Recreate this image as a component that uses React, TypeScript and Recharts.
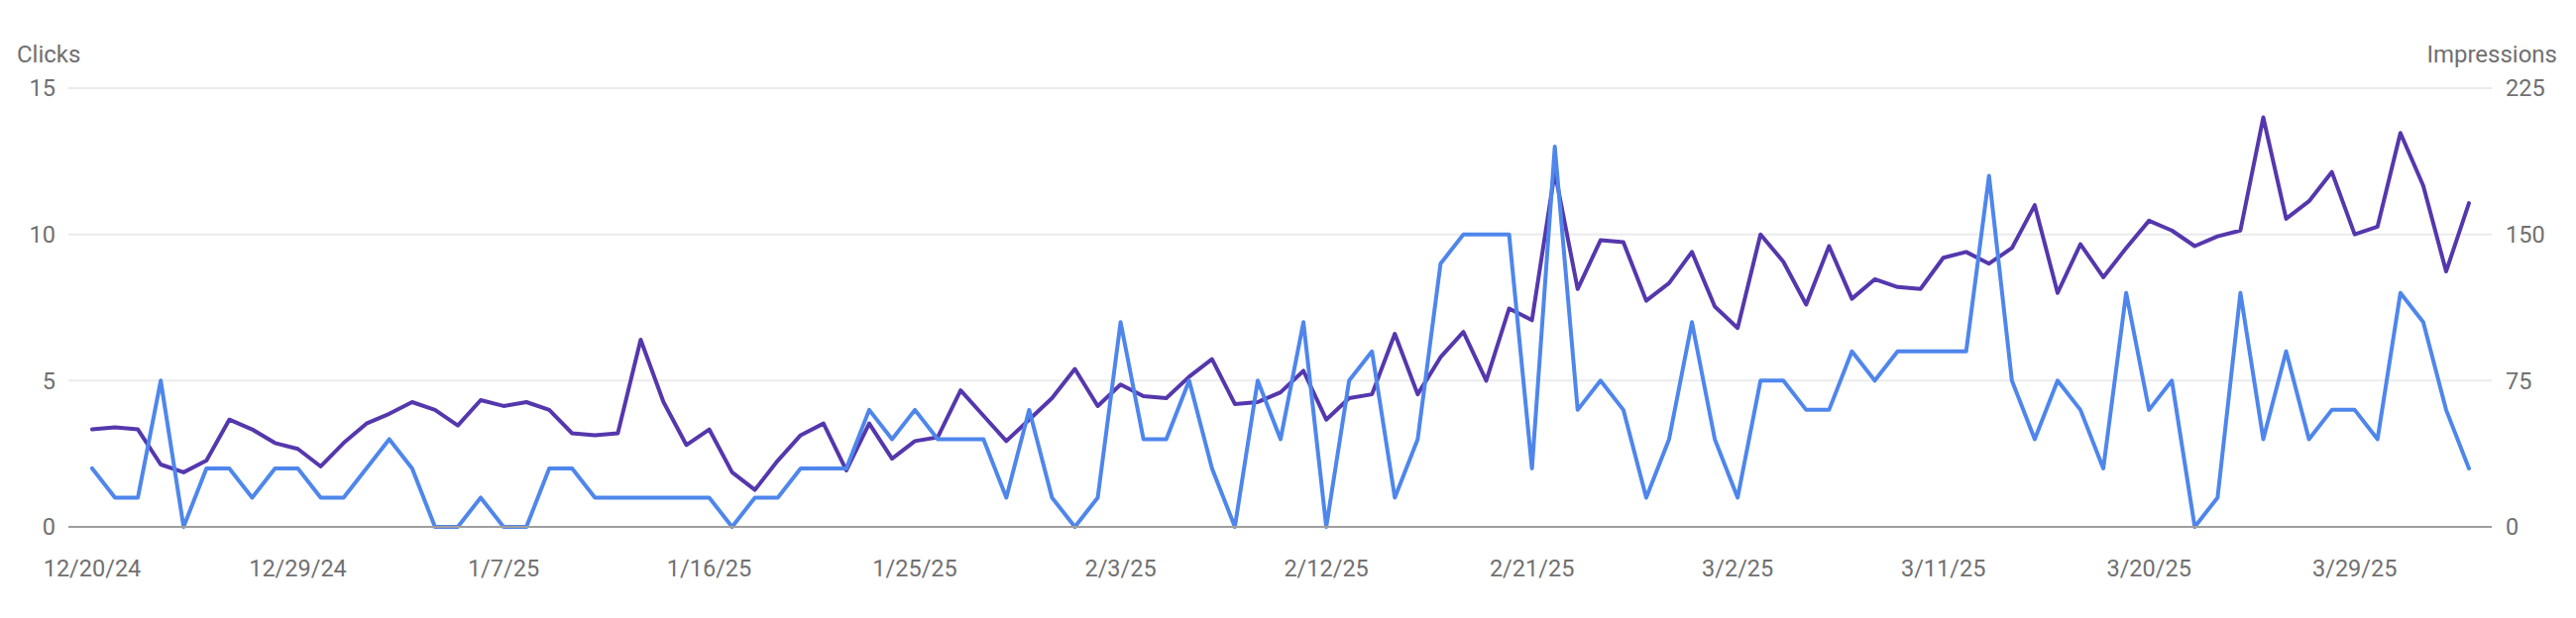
import { CartesianGrid, Line, LineChart, XAxis, YAxis } from "recharts"

// one point per day, 12/20/24 .. 4/3/25
const START = new Date(2024, 11, 20)
const DAY_COUNT = 105

const dates = Array.from({ length: DAY_COUNT }, (_, i) => {
  const d = new Date(START.getFullYear(), START.getMonth(), START.getDate() + i)
  return `${d.getMonth() + 1}/${d.getDate()}/${String(d.getFullYear()).slice(2)}`
})

const clicks = [
  2, 1, 1, 5, 0, 2, 2, 1, 2, 2, 1,
  1, 2, 3, 2, 0, 0, 1, 0, 0, 2, 2, 1, 1,
  1, 1, 1, 1, 0, 1, 1, 2, 2, 2, 4, 3, 4, 3,
  3, 3, 1, 4, 1, 0, 1, 7, 3, 3, 5, 2, 0, 5,
  3, 7, 0, 5, 6, 1, 3, 9, 10, 10, 10, 2, 13, 4,
  5, 4, 1, 3, 7, 3, 1, 5, 5, 4, 4, 6, 5, 6,
  6, 6, 6, 12, 5, 3, 5, 4, 2, 8, 4, 5, 0, 1,
  8, 3, 6, 3, 4, 4, 3, 8, 7, 4, 2,
]

const impressions = [
  50, 51, 50, 32, 28, 34, 55, 50, 43, 40, 31,
  43, 53, 58, 64, 60, 52, 65, 62, 64, 60, 48, 47, 48,
  96, 64, 42, 50, 28, 19, 34, 47, 53, 29, 53, 35, 44, 46,
  70, 57, 44, 55, 66, 81, 62, 73, 67, 66, 77, 86, 63, 64,
  69, 80, 55, 66, 68, 99, 68, 87, 100, 75, 112, 106, 182, 122,
  147, 146, 116, 125, 141, 113, 102, 150, 136, 114, 144, 117, 127, 123,
  122, 138, 141, 135, 143, 165, 120, 145, 128, 143, 157, 152, 144, 149,
  152, 210, 158, 167, 182, 150, 154, 202, 175, 131, 166,
]

const clickTicks = [0, 5, 10, 15]
const impressionTicks = [0, 75, 150, 225]

const data = dates.map((date, i) => ({
  date,
  clicks: clicks[i],
  impressions: impressions[i],
}))

const TEXT = "#707070"
const FONT = "Roboto, sans-serif"
const tickStyle = { fill: TEXT, fontSize: 23.5, fontFamily: FONT }

const titleStyle = {
  position: "absolute" as const,
  top: 43,
  fontSize: 24,
  lineHeight: "24px",
  fontFamily: FONT,
  color: TEXT,
}

export default function App() {
  return (
    <div style={{ position: "absolute", left: 0, top: 0, width: 2599, height: 624, background: "#fff" }}>
      <div style={{ ...titleStyle, left: 17 }}>Clicks</div>
      <div style={{ ...titleStyle, right: 19 }}>Impressions</div>
      <LineChart
        width={2599}
        height={624}
        data={data}
        margin={{ top: 89, right: 0, bottom: 0, left: 0 }}
      >
        <CartesianGrid yAxisId="left" vertical={false} stroke="#ebebeb" strokeWidth={2} />
        <XAxis
          dataKey="date"
          interval={8}
          height={92}
          padding={{ left: 24, right: 23 }}
          tickSize={0}
          tickMargin={33}
          tickLine={false}
          axisLine={{ stroke: "#9e9e9e", strokeWidth: 2 }}
          tick={tickStyle}
        />
        <YAxis
          yAxisId="left"
          orientation="left"
          width={69}
          domain={[0, 15]}
          ticks={clickTicks}
          axisLine={false}
          tickLine={false}
          tickSize={0}
          tickMargin={13}
          tick={tickStyle}
        />
        <YAxis
          yAxisId="right"
          orientation="right"
          width={85}
          domain={[0, 225]}
          ticks={impressionTicks}
          axisLine={false}
          tickLine={false}
          tickSize={0}
          tickMargin={14}
          tick={tickStyle}
        />
        <Line
          yAxisId="right"
          type="linear"
          dataKey="impressions"
          stroke="#5537ad"
          strokeWidth={4}
          strokeLinejoin="round"
          strokeLinecap="round"
          dot={false}
          activeDot={false}
          isAnimationActive={false}
        />
        <Line
          yAxisId="left"
          type="linear"
          dataKey="clicks"
          stroke="#4e86ec"
          strokeWidth={4}
          strokeLinejoin="round"
          strokeLinecap="round"
          dot={false}
          activeDot={false}
          isAnimationActive={false}
        />
      </LineChart>
    </div>
  )
}
